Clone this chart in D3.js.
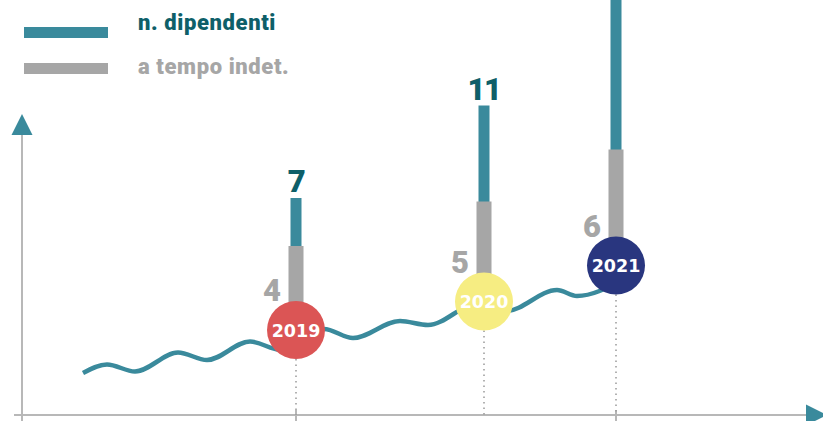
<!DOCTYPE html>
<html>
<head>
<meta charset="utf-8">
<script src="https://cdn.jsdelivr.net/npm/d3@7"></script>
<style>
  body { margin: 0; background: #fff; }
  text { font-family: Roboto, 'Open Sans', sans-serif; }
</style>
</head>
<body>
<div id="chart-area"></div>
<script>
// Data
const YEARS = [2019, 2020, 2021]
const DIPENDENTI = [7, 11, 16]
const INDET = [4, 5, 6]
const LEGEND = ['n. dipendenti', 'a tempo indet.']

const WIDTH = 823
const HEIGHT = 421
const TEAL = '#3a8a9c'
const TEAL_DARK = '#0e5f69'
const GREY = '#a6a6a6'
const AXIS = '#b8b8b8'
const YEAR_FILL = ['#db5555', '#f6ed82', '#29367f']
const R = 29

// decorative wave (pixel coords)
const WAVE = [[83, 373], [107, 364.5], [135, 371.5], [178, 352.5], [207, 360], [250, 341.5],
  [281, 350], [324, 329], [353, 338], [400, 321], [428, 325], [479, 303], [506, 311],
  [557, 290], [577, 296], [622, 280]]

const svg = d3.select('#chart-area').append('svg')
  .attr('width', WIDTH)
  .attr('height', HEIGHT)

const data = YEARS.map((y, i) => ({ year: y, tot: DIPENDENTI[i], indet: INDET[i], fill: YEAR_FILL[i] }))

// scales
const x = d3.scaleLinear().domain(YEARS).range([296, 484, 616])
const cy = d3.scaleLinear().domain(YEARS).range([330, 301.5, 265.5])
const len = d3.scaleLinear().domain([0, 10]).range([20, 180])

// axes
const AX_Y = 415
const AX_X = 22
svg.append('line')
  .attr('x1', 14).attr('x2', 808)
  .attr('y1', AX_Y).attr('y2', AX_Y)
  .attr('stroke', AXIS).attr('stroke-width', 2)
svg.append('line')
  .attr('x1', AX_X).attr('x2', AX_X)
  .attr('y1', 132).attr('y2', HEIGHT)
  .attr('stroke', AXIS).attr('stroke-width', 2)
svg.append('path')
  .attr('d', `M${AX_X - 10.5},135 L${AX_X},114 L${AX_X + 10.5},135 Z`)
  .attr('fill', TEAL)
svg.append('path')
  .attr('d', `M806,${AX_Y - 10.5} L827,${AX_Y} L806,${AX_Y + 10.5} Z`)
  .attr('fill', TEAL)

// ticks
svg.selectAll('.tick')
  .data(data.filter(d => d.year !== 2020))
  .enter().append('line')
  .attr('x1', d => x(d.year)).attr('x2', d => x(d.year))
  .attr('y1', AX_Y - 5).attr('y2', HEIGHT)
  .attr('stroke', AXIS).attr('stroke-width', 2)

// dotted drop lines
svg.selectAll('.drop')
  .data(data)
  .enter().append('line')
  .attr('x1', d => x(d.year)).attr('x2', d => x(d.year))
  .attr('y1', d => cy(d.year) + R).attr('y2', AX_Y)
  .attr('stroke', '#999').attr('stroke-width', 1.5)
  .attr('stroke-dasharray', '1.5,4')

// wave
svg.append('path')
  .datum(WAVE)
  .attr('d', d3.line().curve(d3.curveMonotoneX))
  .attr('fill', 'none')
  .attr('stroke', TEAL)
  .attr('stroke-width', 4.5)

// bars
svg.selectAll('.bar-tot')
  .data(data)
  .enter().append('rect')
  .attr('x', d => x(d.year) - 5.5)
  .attr('y', d => cy(d.year) - len(d.tot))
  .attr('width', 11)
  .attr('height', d => len(d.tot))
  .attr('fill', TEAL)

svg.selectAll('.bar-indet')
  .data(data)
  .enter().append('rect')
  .attr('x', d => x(d.year) - 7.5)
  .attr('y', d => cy(d.year) - len(d.indet))
  .attr('width', 15)
  .attr('height', d => len(d.indet))
  .attr('fill', GREY)

// circles
svg.selectAll('.dot')
  .data(data)
  .enter().append('circle')
  .attr('cx', d => x(d.year))
  .attr('cy', d => cy(d.year))
  .attr('r', R)
  .attr('fill', d => d.fill)

svg.selectAll('.year')
  .data(data)
  .enter().append('text')
  .attr('x', d => x(d.year))
  .attr('y', d => cy(d.year) + 6.5)
  .attr('text-anchor', 'middle')
  .style('font-family', "'DejaVu Sans', sans-serif")
  .attr('font-weight', 'bold')
  .attr('font-size', '17.5px')
  .attr('fill', '#fff')
  .text(d => d.year)

// value labels (the 2021 total runs off the top, as in the original)
svg.selectAll('.lab-tot')
  .data(data.filter(d => cy(d.year) - len(d.tot) - 30 > 0))
  .enter().append('text')
  .attr('x', d => x(d.year))
  .attr('y', d => cy(d.year) - len(d.tot) - 6)
  .attr('text-anchor', 'middle')
  .attr('font-weight', 900)
  .attr('font-size', '31px')
  .attr('letter-spacing', '-1.5px')
  .attr('fill', TEAL_DARK)
  .text(d => d.tot)

svg.selectAll('.lab-indet')
  .data(data)
  .enter().append('text')
  .attr('x', d => x(d.year) - 15)
  .attr('y', d => cy(d.year) - R)
  .attr('text-anchor', 'end')
  .attr('font-weight', 900)
  .attr('font-size', '31px')
  .attr('fill', GREY)
  .text(d => d.indet)

// legend
const legend = svg.append('g')
legend.selectAll('rect')
  .data(LEGEND)
  .enter().append('rect')
  .attr('x', 24)
  .attr('y', (d, i) => 27 + i * 36)
  .attr('width', 84)
  .attr('height', 11)
  .attr('fill', (d, i) => i === 0 ? TEAL : GREY)
legend.selectAll('text')
  .data(LEGEND)
  .enter().append('text')
  .attr('x', 138)
  .attr('y', (d, i) => 30 + i * 44)
  .attr('font-weight', 900)
  .attr('font-size', '22px')
  .attr('letter-spacing', '0.6px')
  .attr('fill', (d, i) => i === 0 ? TEAL_DARK : GREY)
  .text(d => d)
</script>
</body>
</html>
